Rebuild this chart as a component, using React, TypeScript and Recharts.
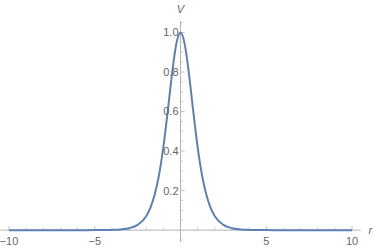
import { LineChart, Line, XAxis, YAxis, ReferenceLine, ReferenceDot } from "recharts";

// r and V
const R_VALUES = [
  -10, -8, -6, -5, -4.5, -4, -3.5, -3, -2.5, -2, -1.75, -1.5, -1.25, -1, -0.75, -0.5, -0.25, 0,
  0.25, 0.5, 0.75, 1, 1.25, 1.5, 1.75, 2, 2.5, 3, 3.5, 4, 4.5, 5, 6, 8, 10,
];
const V_VALUES = [
  0, 0, 0, 0.0002, 0.0005, 0.0013, 0.0036, 0.0099, 0.0266, 0.0707, 0.114, 0.181, 0.28, 0.42, 0.597, 0.786, 0.94, 1,
  0.94, 0.786, 0.597, 0.42, 0.28, 0.181, 0.114, 0.0707, 0.0266, 0.0099, 0.0036, 0.0013, 0.0005, 0.0002, 0, 0, 0,
];

const X_LABELS = [-10, -5, 5, 10];
const X_MINOR = [-10, -9, -8, -7, -6, -5, -4, -3, -2, -1, 1, 2, 3, 4, 5, 6, 7, 8, 9, 10];
const Y_LABELS = [0.2, 0.4, 0.6, 0.8, 1.0];
const Y_MINOR = [
  -0.05, 0.05, 0.1, 0.15, 0.2, 0.25, 0.3, 0.35, 0.4, 0.45, 0.5, 0.55, 0.6, 0.65, 0.7, 0.75, 0.8, 0.85, 0.9, 0.95, 1.0, 1.05,
];

const X_DOMAIN: [number, number] = [-10.5, 10.5];
const Y_DOMAIN: [number, number] = [-0.06, 1.058];

const data = R_VALUES.map((r, i) => ({ r, v: V_VALUES[i] }));

const AXIS = "#b3b3b3";
const TICK = "#c4c4c4";
const TEXT = "#666666";
const FONT = "'Liberation Sans', Arial, sans-serif";

// tick lengths in data units (about 2.5px minor, 4.5px major)
const X_TICK_MINOR = 0.0125;
const X_TICK_MAJOR = 0.022;
const Y_TICK_MINOR = 0.13;
const Y_TICK_MAJOR = 0.24;

const fmtX = (v: number) => (v < 0 ? `\u2212${Math.abs(v)}` : `${v}`);

export default function App() {
  return (
    <div style={{ position: "absolute", left: 0, top: 0 }}>
      <LineChart
        width={374}
        height={249}
        data={data}
        margin={{ top: 21, right: 13.4, bottom: 7, left: 0.4 }}
      >
        <XAxis dataKey="r" type="number" domain={X_DOMAIN} allowDataOverflow hide />
        <YAxis type="number" domain={Y_DOMAIN} allowDataOverflow hide />

        <ReferenceLine y={0} stroke={AXIS} strokeWidth={1} />
        <ReferenceLine x={0} stroke={AXIS} strokeWidth={1} />

        {X_MINOR.map((t) => (
          <ReferenceLine
            key={`xt${t}`}
            segment={[
              { x: t, y: 0 },
              { x: t, y: t % 5 === 0 ? X_TICK_MAJOR : X_TICK_MINOR },
            ]}
            stroke={TICK}
            ifOverflow="visible"
          />
        ))}
        {Y_MINOR.map((t) => (
          <ReferenceLine
            key={`yt${t}`}
            segment={[
              { x: 0, y: t },
              { x: Y_LABELS.includes(t) ? Y_TICK_MAJOR : Y_TICK_MINOR, y: t },
            ]}
            stroke={TICK}
            ifOverflow="visible"
          />
        ))}

        {X_LABELS.map((t) => (
          <ReferenceDot
            key={`xl${t}`}
            x={t}
            y={0}
            r={0}
            fill="none"
            stroke="none"
            ifOverflow="visible"
            label={{
              value: fmtX(t),
              position: "bottom",
              offset: 7,
              fill: TEXT,
              fontSize: 11,
              fontFamily: FONT,
            }}
          />
        ))}
        {Y_LABELS.map((t) => (
          <ReferenceDot
            key={`yl${t}`}
            x={0}
            y={t}
            r={0}
            fill="none"
            stroke="none"
            ifOverflow="visible"
            label={{
              value: t.toFixed(1),
              position: "left",
              offset: 2,
              fill: TEXT,
              fontSize: 11,
              fontFamily: FONT,
            }}
          />
        ))}

        <ReferenceDot
          x={0}
          y={Y_DOMAIN[1]}
          r={0}
          fill="none"
          stroke="none"
          ifOverflow="visible"
          label={{
            value: "V",
            position: "top",
            offset: 8,
            fill: TEXT,
            fontSize: 11,
            fontStyle: "italic",
            fontFamily: FONT,
          }}
        />
        <ReferenceDot
          x={X_DOMAIN[1]}
          y={0}
          r={0}
          fill="none"
          stroke="none"
          ifOverflow="visible"
          label={{
            value: "r",
            position: "right",
            offset: 8,
            fill: TEXT,
            fontSize: 11,
            fontStyle: "italic",
            fontFamily: FONT,
          }}
        />

        <Line
          type="monotone"
          dataKey="v"
          stroke="#5e81b5"
          strokeWidth={2}
          dot={false}
          isAnimationActive={false}
        />
      </LineChart>
    </div>
  );
}
